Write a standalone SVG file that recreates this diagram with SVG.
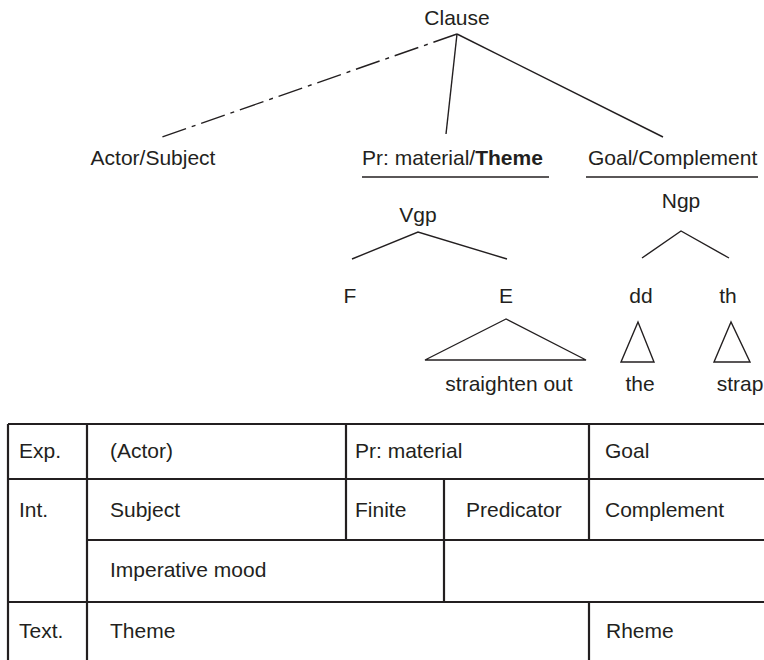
<svg xmlns="http://www.w3.org/2000/svg" width="764" height="660" viewBox="0 0 764 660">
<style>
text{font-family:"Liberation Sans",Arial,sans-serif;font-size:21px;fill:#231f20}
.m{text-anchor:middle}
.b{font-weight:bold}
.t{stroke:#231f20;stroke-width:1.4;fill:none}
.g{stroke:#231f20;stroke-width:2.2;fill:none}
</style>
<rect width="764" height="660" fill="#fff"/>
<g id="connectors">
<path class="t" d="M457 34 L162 137" stroke-dasharray="25 6 4 6"/>
<path class="t" d="M457 34 L446 134"/>
<path class="t" d="M457 34 L663 137"/>
<path class="t" d="M362 177 H549"/>
<path class="t" d="M586 177 H758"/>
<path class="t" d="M352 259 L418 232 L507 259"/>
<path class="t" d="M642 258 L681 231 L729 258"/>
<path class="t" d="M506 319 L425 360 H586 Z"/>
<path class="t" d="M638 322 L621 362 H654 Z"/>
<path class="t" d="M731 322 L714 362 H750 Z"/>
</g>
<g id="clause"><text class="m" x="457" y="25">Clause</text></g>
<g id="actor"><text class="m" x="153" y="165">Actor/Subject</text></g>
<g id="process"><text x="362" y="165">Pr: material/<tspan class="b">Theme</tspan></text></g>
<g id="goal"><text x="588" y="165">Goal/Complement</text></g>
<g id="vgp"><text class="m" x="418" y="222">Vgp</text></g>
<g id="ngp"><text class="m" x="681" y="208">Ngp</text></g>
<g id="f"><text class="m" x="350" y="303">F</text></g>
<g id="e"><text class="m" x="506" y="303">E</text></g>
<g id="dd"><text class="m" x="641" y="303">dd</text></g>
<g id="th"><text class="m" x="728" y="303">th</text></g>
<g id="straighten"><text class="m" x="509" y="391">straighten out</text></g>
<g id="the"><text class="m" x="640" y="391">the</text></g>
<g id="strap"><text class="m" x="740" y="391">strap</text></g>
<g id="table">
<path class="g" d="M8 424 H764 M8 479 H764 M87 540 H764 M8 602 H764 M8 424 V660 M87 424 V660 M346 424 V540 M444 479 V602 M589 424 V540 M589 602 V660"/>
<text x="19" y="458">Exp.</text>
<text x="110" y="458">(Actor)</text>
<text x="355" y="458">Pr: material</text>
<text x="605" y="458">Goal</text>
<text x="19" y="517">Int.</text>
<text x="110" y="517">Subject</text>
<text x="355" y="517">Finite</text>
<text x="466" y="517">Predicator</text>
<text x="605" y="517">Complement</text>
<text x="110" y="577">Imperative mood</text>
<text x="19" y="638">Text.</text>
<text x="110" y="638">Theme</text>
<text x="606" y="638">Rheme</text>
</g>
</svg>
